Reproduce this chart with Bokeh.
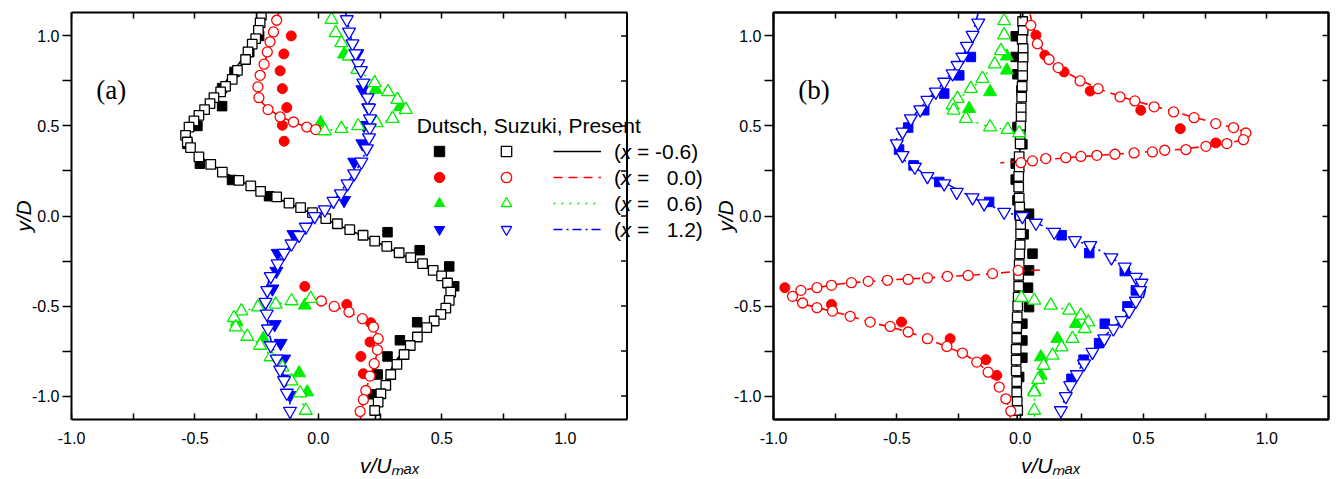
import math
from bokeh.plotting import figure
from bokeh.layouts import row
from bokeh.models import (Range1d, LinearAxis, FixedTicker, NumeralTickFormatter,
                          Label, Legend, LegendItem, Span)
from bokeh.embed import file_html
from bokeh.resources import INLINE

NAN = float("nan")

# ---------------- panel (a) ----------------
# Dutsch (filled markers)
A_DU_M06_X = [-0.24, -0.28, -0.34, -0.39, -0.39, -0.49, -0.53, -0.48, -0.35, -0.20, 0.28, 0.41, 0.53, 0.55, 0.40, 0.33, 0.28, 0.24, 0.22]
A_DU_M06_Y = [1.00, 0.91, 0.80, 0.71, 0.61, 0.50, 0.40, 0.29, 0.20, 0.11, -0.09, -0.19, -0.28, -0.39, -0.59, -0.69, -0.78, -0.88, -0.99]
A_DU_000_X = [-0.11, -0.14, -0.155, -0.146, -0.128, -0.146, -0.139, -0.055, 0.115, 0.212, 0.209, 0.172, 0.182]
A_DU_000_Y = [1.00, 0.90, 0.806, 0.707, 0.602, 0.504, 0.415, -0.391, -0.491, -0.593, -0.700, -0.780, -0.876]
A_DU_06_X = [0.104, 0.232, 0.331, 0.009, -0.055, -0.331, -0.223, -0.078, -0.045]
A_DU_06_Y = [0.898, 0.702, 0.606, 0.517, -0.496, -0.589, -0.681, -0.872, -0.978]
A_DU_12_X = [0.158, 0.178, 0.201, 0.185, 0.178, 0.145, 0.104, -0.101, -0.165, -0.170, -0.186, -0.177, -0.153, -0.139, -0.132, -0.115]
A_DU_12_Y = [0.902, 0.702, 0.602, 0.504, 0.402, 0.300, 0.087, -0.102, -0.206, -0.306, -0.404, -0.602, -0.706, -0.793, -0.904, -0.996]

# Suzuki (open markers)
A_SU_M06_X = [-0.231, -0.236, -0.243, -0.254, -0.268, -0.285, -0.295, -0.328, -0.349, -0.376, -0.396, -0.423, -0.439, -0.461, -0.484, -0.504, -0.524, -0.538, -0.531, -0.518, -0.484, -0.436, -0.389, -0.322, -0.274, -0.234, -0.169, -0.119, -0.072, -0.024, 0.030, 0.077, 0.127, 0.181, 0.228, 0.277, 0.327, 0.374, 0.422, 0.465, 0.499, 0.523, 0.536, 0.530, 0.516, 0.496, 0.469, 0.439, 0.401, 0.372, 0.347, 0.318, 0.293, 0.273, 0.253, 0.242, 0.228]
A_SU_M06_Y = [1.115, 1.072, 1.031, 0.985, 0.954, 0.911, 0.869, 0.809, 0.759, 0.720, 0.689, 0.657, 0.624, 0.591, 0.559, 0.528, 0.494, 0.448, 0.411, 0.380, 0.328, 0.287, 0.244, 0.198, 0.167, 0.137, 0.106, 0.072, 0.046, 0.019, -0.015, -0.043, -0.076, -0.107, -0.139, -0.169, -0.204, -0.231, -0.265, -0.302, -0.333, -0.372, -0.422, -0.469, -0.511, -0.546, -0.583, -0.620, -0.672, -0.719, -0.769, -0.824, -0.880, -0.941, -0.987, -1.033, -1.080]
A_SU_000_X = [-0.169, -0.182, -0.196, -0.207, -0.220, -0.236, -0.245, -0.241, -0.204, -0.155, -0.101, -0.047, -0.011, 0.012, 0.064, 0.124, 0.178, 0.223, 0.242, 0.239, 0.226, 0.209, 0.192, 0.182, 0.169]
A_SU_000_Y = [1.087, 1.022, 0.967, 0.911, 0.843, 0.781, 0.717, 0.657, 0.591, 0.550, 0.522, 0.494, 0.480, -0.472, -0.502, -0.533, -0.570, -0.617, -0.681, -0.743, -0.820, -0.889, -0.969, -1.020, -1.085]
A_SU_06_X = [0.053, 0.070, 0.093, 0.124, 0.158, 0.228, 0.282, 0.320, 0.354, 0.300, 0.236, 0.161, 0.093, 0.026, -0.031, -0.109, -0.173, -0.245, -0.312, -0.342, -0.335, -0.288, -0.236, -0.193, -0.146, -0.109, -0.074, -0.051]
A_SU_06_Y = [1.091, 1.017, 0.961, 0.887, 0.813, 0.739, 0.689, 0.646, 0.591, 0.541, 0.517, 0.500, 0.485, 0.472, -0.459, -0.472, -0.491, -0.506, -0.528, -0.565, -0.617, -0.669, -0.719, -0.783, -0.839, -0.917, -0.983, -1.080]
A_SU_12_X = [0.115, 0.124, 0.138, 0.151, 0.161, 0.172, 0.182, 0.199, 0.205, 0.209, 0.208, 0.205, 0.196, 0.174, 0.145, 0.118, 0.091, 0.061, 0.026, -0.015, -0.051, -0.078, -0.109, -0.139, -0.165, -0.193, -0.207, -0.214, -0.209, -0.204, -0.193, -0.169, -0.155, -0.139, -0.128, -0.115]
A_SU_12_Y = [1.091, 1.022, 0.957, 0.902, 0.846, 0.809, 0.739, 0.657, 0.600, 0.541, 0.490, 0.435, 0.374, 0.300, 0.235, 0.180, 0.124, 0.083, 0.035, -0.002, -0.061, -0.107, -0.154, -0.206, -0.265, -0.335, -0.413, -0.478, -0.543, -0.626, -0.719, -0.793, -0.854, -0.913, -0.983, -1.083]

# Present (lines)
A_PR_M06_X = [-0.22, -0.25, -0.29, -0.35, -0.42, -0.48, -0.53, -0.54, -0.52, -0.46, -0.38, -0.28, -0.17, -0.07, 0.03, 0.13, 0.23, 0.33, 0.42, 0.50, 0.54, 0.53, 0.49, 0.43, 0.37, 0.31, 0.27, 0.24, 0.23]
A_PR_M06_Y = [1.13, 1.02, 0.91, 0.79, 0.67, 0.56, 0.49, 0.44, 0.38, 0.31, 0.24, 0.17, 0.10, 0.04, -0.02, -0.08, -0.14, -0.21, -0.27, -0.34, -0.42, -0.50, -0.56, -0.63, -0.71, -0.81, -0.92, -1.03, -1.13]
A_PR_000_X = [-0.16, -0.18, -0.20, -0.22, -0.24, -0.245, -0.235, -0.20, -0.15, -0.10, -0.05, 0.0, NAN, 0.0, 0.06, 0.12, 0.18, 0.225, 0.243, 0.24, 0.225, 0.205, 0.185, 0.17]
A_PR_000_Y = [1.13, 1.03, 0.93, 0.84, 0.76, 0.70, 0.64, 0.59, 0.55, 0.52, 0.495, 0.475, NAN, -0.47, -0.50, -0.53, -0.57, -0.62, -0.68, -0.75, -0.83, -0.91, -1.00, -1.13]
A_PR_06_X = [0.05, 0.07, 0.10, 0.13, 0.17, 0.23, 0.29, 0.34, 0.33, 0.28, 0.22, 0.15, 0.08, 0.02, NAN, -0.02, -0.10, -0.17, -0.24, -0.31, -0.33, -0.32, -0.28, -0.23, -0.19, -0.14, -0.10, -0.07, -0.05]
A_PR_06_Y = [1.13, 1.02, 0.95, 0.88, 0.80, 0.74, 0.68, 0.60, 0.56, 0.53, 0.51, 0.495, 0.485, 0.47, NAN, -0.46, -0.47, -0.49, -0.505, -0.53, -0.57, -0.62, -0.67, -0.72, -0.78, -0.84, -0.92, -0.99, -1.13]
A_PR_12_X = [0.11, 0.13, 0.15, 0.17, 0.19, 0.205, 0.21, 0.205, 0.19, 0.16, 0.12, 0.07, 0.02, -0.03, -0.08, -0.13, -0.17, -0.20, -0.215, -0.21, -0.20, -0.18, -0.15, -0.12, -0.11]
A_PR_12_Y = [1.13, 1.0, 0.9, 0.8, 0.7, 0.6, 0.5, 0.42, 0.35, 0.27, 0.19, 0.10, 0.03, -0.04, -0.11, -0.19, -0.27, -0.35, -0.45, -0.55, -0.65, -0.75, -0.85, -0.98, -1.13]

# ---------------- panel (b) ----------------
B_DU_M06_X = [-0.018, -0.018, -0.011, 0.005, -0.011, 0.009, -0.018, -0.018, -0.011, 0.036, 0.014, 0.05, 0.036, 0.032, 0.036, 0.009, 0.009, 0.009, -0.004]
B_DU_M06_Y = [0.998, 0.883, 0.787, 0.698, 0.494, 0.398, 0.291, 0.202, 0.087, 0.013, -0.102, -0.209, -0.302, -0.398, -0.506, -0.598, -0.691, -0.787, -0.894]
B_DU_000_X = [0.064, 0.10, 0.178, 0.284, 0.489, 0.649, 0.793, -0.954, -0.765, -0.481, -0.284, -0.139, -0.095]
B_DU_000_Y = [1.004, 0.893, 0.80, 0.694, 0.587, 0.485, 0.406, -0.398, -0.491, -0.589, -0.681, -0.798, -0.885]
B_DU_06_X = [-0.054, -0.054, -0.122, -0.207, 0.226, 0.151, 0.084, 0.084, 0.057]
B_DU_06_Y = [0.887, 0.809, 0.689, 0.596, -0.598, -0.681, -0.783, -0.885, -0.969]
B_DU_12_X = [-0.200, -0.247, -0.308, -0.389, -0.454, -0.491, -0.432, -0.328, -0.126, -0.004, 0.168, 0.280, 0.424, 0.469, 0.435, 0.343, 0.320, 0.257, 0.208]
B_DU_12_Y = [0.883, 0.781, 0.680, 0.587, 0.491, 0.369, 0.281, 0.189, 0.078, 0.009, -0.107, -0.206, -0.306, -0.413, -0.502, -0.598, -0.706, -0.798, -0.904]

B_SU_M06_X = [0.010, 0.012, 0.008, 0.012, 0.012, 0.010, 0.010, 0.008, 0.006, 0.004, 0.004, 0.002, 0.000, 0.000, -0.004, -0.004, -0.006, -0.006, -0.004, -0.002, 0.000, 0.002, 0.002, 0.000, -0.002, -0.004, -0.006, -0.006, -0.008, -0.010, -0.012, -0.014, -0.014, -0.016, -0.016, -0.016, -0.014, -0.014, -0.012, -0.010]
B_SU_M06_Y = [1.08, 1.03, 0.98, 0.93, 0.88, 0.83, 0.78, 0.72, 0.66, 0.60, 0.55, 0.50, 0.45, 0.40, 0.33, 0.27, 0.22, 0.16, 0.10, 0.05, 0.00, -0.05, -0.10, -0.16, -0.21, -0.27, -0.33, -0.39, -0.45, -0.50, -0.56, -0.62, -0.68, -0.74, -0.80, -0.86, -0.92, -0.98, -1.03, -1.08]
B_SU_000_X = [0.043, 0.070, 0.117, 0.154, 0.243, 0.316, 0.405, 0.465, 0.543, 0.622, 0.705, 0.793, 0.865, 0.915, 0.905, 0.838, 0.753, 0.672, 0.586, 0.536, 0.462, 0.384, 0.311, 0.246, 0.185, 0.104, 0.050, 0.003,
              -0.008, -0.112, -0.211, -0.295, -0.376, -0.454, -0.538, -0.616, -0.684, -0.765, -0.824, -0.889, -0.923, -0.882, -0.824, -0.761, -0.689, -0.608, -0.527, -0.454, -0.376, -0.297, -0.234, -0.176, -0.130, -0.085, -0.058, -0.038]
B_SU_000_Y = [1.059, 0.957, 0.869, 0.824, 0.750, 0.707, 0.661, 0.639, 0.606, 0.578, 0.546, 0.513, 0.491, 0.461, 0.424, 0.402, 0.387, 0.369, 0.365, 0.356, 0.350, 0.343, 0.337, 0.331, 0.324, 0.319, 0.306, 0.296,
              -0.302, -0.320, -0.330, -0.335, -0.344, -0.352, -0.357, -0.363, -0.370, -0.385, -0.398, -0.413, -0.446, -0.483, -0.509, -0.528, -0.557, -0.589, -0.613, -0.644, -0.681, -0.724, -0.761, -0.811, -0.867, -0.950, -1.015, -1.083]
B_SU_06_X = [-0.065, -0.065, -0.078, -0.103, -0.153, -0.200, -0.254, -0.274, -0.270, -0.220, -0.122, -0.051, -0.004, 0.005, 0.057, 0.124, 0.199, 0.246, 0.276, 0.262, 0.212, 0.168, 0.131, 0.095, 0.073, 0.057, 0.057]
B_SU_06_Y = [1.083, 1.004, 0.917, 0.843, 0.763, 0.707, 0.652, 0.615, 0.587, 0.541, 0.494, 0.480, 0.461, -0.454, -0.469, -0.496, -0.524, -0.552, -0.589, -0.626, -0.681, -0.728, -0.774, -0.830, -0.909, -0.978, -1.080]
B_SU_12_X = [-0.170, -0.193, -0.216, -0.234, -0.254, -0.274, -0.308, -0.342, -0.376, -0.405, -0.443, -0.477, -0.500, -0.477, -0.427, -0.376, -0.308, -0.257, -0.193, -0.146, -0.065, 0.009, 0.064, 0.138, 0.222, 0.284, 0.370, 0.424, 0.469, 0.492, 0.486, 0.469, 0.442, 0.411, 0.378, 0.341, 0.293, 0.259, 0.230, 0.203, 0.185, 0.165]
B_SU_12_Y = [1.072, 1.004, 0.943, 0.883, 0.837, 0.791, 0.744, 0.689, 0.643, 0.591, 0.541, 0.467, 0.402, 0.337, 0.272, 0.220, 0.180, 0.133, 0.102, 0.069, 0.022, -0.002, -0.039, -0.089, -0.135, -0.163, -0.231, -0.283, -0.339, -0.372, -0.413, -0.472, -0.528, -0.580, -0.626, -0.681, -0.756, -0.820, -0.880, -0.941, -1.002, -1.080]

B_PR_M06_X = [0.01, 0.012, 0.008, 0.003, -0.003, 0.0, 0.002, -0.004, -0.01, -0.014, -0.016, -0.012]
B_PR_M06_Y = [1.13, 0.95, 0.75, 0.55, 0.3, 0.0, -0.1, -0.3, -0.5, -0.7, -0.9, -1.13]
B_PR_000_X = [0.04, 0.07, 0.12, 0.17, 0.25, 0.33, 0.45, 0.57, 0.70, 0.81, 0.89, 0.92, 0.90, 0.80, 0.65, 0.50, 0.35, 0.20, 0.07, -0.04, -0.08, NAN,
              0.08, 0.0, -0.11, -0.21, -0.30, -0.38, -0.46, -0.54, -0.62, -0.69, -0.77, -0.83, -0.89, -0.93, -0.89, -0.82, -0.76, -0.69, -0.61, -0.53, -0.45, -0.38, -0.30, -0.23, -0.17, -0.13, -0.085, -0.055, -0.04]
B_PR_000_Y = [1.12, 0.96, 0.87, 0.81, 0.75, 0.70, 0.645, 0.60, 0.55, 0.51, 0.48, 0.45, 0.42, 0.395, 0.37, 0.355, 0.34, 0.325, 0.31, 0.30, 0.295, NAN,
              -0.30, -0.305, -0.32, -0.33, -0.335, -0.345, -0.35, -0.355, -0.365, -0.37, -0.385, -0.40, -0.415, -0.445, -0.485, -0.51, -0.53, -0.555, -0.59, -0.615, -0.645, -0.68, -0.725, -0.765, -0.815, -0.87, -0.95, -1.02, -1.12]
B_PR_06_X = [-0.065, -0.068, -0.08, -0.105, -0.155, -0.20, -0.25, -0.275, -0.27, -0.22, -0.15, -0.10, -0.05, 0.0, 0.02, NAN,
             -0.02, 0.01, 0.06, 0.12, 0.20, 0.25, 0.275, 0.26, 0.21, 0.165, 0.13, 0.095, 0.072, 0.058, 0.058]
B_PR_06_Y = [1.13, 1.0, 0.92, 0.84, 0.76, 0.705, 0.65, 0.61, 0.58, 0.54, 0.505, 0.49, 0.478, 0.465, 0.46, NAN,
             -0.44, -0.455, -0.47, -0.495, -0.525, -0.555, -0.59, -0.625, -0.68, -0.73, -0.775, -0.83, -0.91, -0.98, -1.13]
B_PR_12_X = [-0.17, -0.19, -0.215, -0.235, -0.255, -0.28, -0.31, -0.345, -0.38, -0.41, -0.45, -0.49, -0.51, -0.49, -0.43, -0.37, -0.30, -0.19, -0.14, -0.06, 0.01, 0.07, 0.14, 0.22, 0.29, 0.37, 0.43, 0.48, 0.51, 0.50, 0.47, 0.44, 0.41, 0.37, 0.33, 0.29, 0.255, 0.225, 0.20, 0.18, 0.165]
B_PR_12_Y = [1.13, 1.02, 0.94, 0.88, 0.84, 0.79, 0.74, 0.69, 0.64, 0.59, 0.53, 0.46, 0.40, 0.33, 0.27, 0.22, 0.18, 0.10, 0.07, 0.02, -0.002, -0.04, -0.09, -0.135, -0.165, -0.23, -0.29, -0.35, -0.40, -0.45, -0.50, -0.535, -0.58, -0.63, -0.685, -0.76, -0.82, -0.88, -0.94, -1.0, -1.13]

# ---------------- ticks / texts ----------------
X_MIN, X_MAX = -1.0, 1.25
Y_MIN, Y_MAX = -1.13, 1.13
LABELED_TICKS = [-1.0, -0.5, 0.0, 0.5, 1.0]
QUARTER_TICKS = [-1.0, -0.75, -0.5, -0.25, 0.0, 0.25, 0.5, 0.75, 1.0]
MINOR_TICKS = [-0.75, -0.25, 0.25, 0.75]
STATIONS = ["-0.6", "\u00a0\u00a00.0", "\u00a0\u00a00.6", "\u00a0\u00a01.2"]
HEADER = "Dutsch, Suzuki, Present"
X_TITLE = "v/U\u2098\u2090\u2093"
Y_TITLE = "y/D"

# ---------------- styles ----------------
COLORS = ["#000000", "#ff0000", "#00ee00", "#0000ff"]
DASHES = ["solid", "9 6", "2 6", "9 4 2 4"]
OPEN_MARKERS = ["square", "circle", "triangle", "inverted_triangle"]
SIZES = {"square": 9.5, "circle": 10, "triangle": 13, "inverted_triangle": 13}
FONT = "Liberation Sans"
AXW = 2


def style_common(ax):
    ax.axis_line_width = AXW
    ax.axis_line_color = "black"
    ax.major_tick_line_width = 1.5
    ax.minor_tick_line_width = 1.5
    ax.major_tick_line_color = "black"
    ax.minor_tick_line_color = "black"


def style_labeled(ax, tin, tout, standoff):
    style_common(ax)
    ax.ticker = FixedTicker(ticks=LABELED_TICKS, minor_ticks=MINOR_TICKS)
    ax.formatter = NumeralTickFormatter(format="0.0")
    ax.major_tick_in = tin
    ax.major_tick_out = tout
    ax.minor_tick_in = tin
    ax.minor_tick_out = tout
    ax.major_label_text_font = FONT
    ax.major_label_text_font_size = "16px"
    ax.major_label_text_color = "black"
    ax.major_label_standoff = standoff
    ax.axis_label_text_font = FONT
    ax.axis_label_text_font_style = "italic"
    ax.axis_label_text_font_size = "21px"
    ax.axis_label_text_color = "black"


def style_unlabeled(ax):
    style_common(ax)
    ax.ticker = FixedTicker(ticks=[], minor_ticks=QUARTER_TICKS)
    ax.minor_tick_in = 6
    ax.minor_tick_out = 0
    ax.major_label_standoff = 0


def make_panel(width, bl, br, xmax, open_right, dutsch, suzuki, present, dutsch_markers, tag, with_legend):
    p = figure(width=width, height=479, x_range=Range1d(X_MIN, xmax), y_range=Range1d(Y_MIN, Y_MAX),
               output_backend="svg", toolbar_location=None,
               min_border_left=bl, min_border_right=br, min_border_top=12, min_border_bottom=60,
               background_fill_color="white", border_fill_color="white",
               outline_line_color=None if open_right else "black", outline_line_width=AXW)
    p.grid.visible = False

    bottom = p.xaxis[0]
    style_labeled(bottom, 6, 0, 12)
    bottom.axis_label = X_TITLE
    bottom.axis_label_standoff = 7
    left = p.yaxis[0]
    style_labeled(left, 0, 9, 3)
    left.axis_label = Y_TITLE
    left.axis_label_standoff = -6
    top = LinearAxis()
    style_unlabeled(top)
    p.add_layout(top, "above")
    if open_right:
        bottom.bounds = (X_MIN, X_MAX)
        top.bounds = (X_MIN, X_MAX)
        p.add_layout(Span(location=X_MAX, dimension="height", line_color="black", line_width=AXW))
        p.ray(x=[X_MAX] * len(QUARTER_TICKS), y=QUARTER_TICKS, length=6, length_units="screen",
              angle=math.pi, line_color="black", line_width=1.5)
    else:
        right = LinearAxis()
        style_unlabeled(right)
        p.add_layout(right, "right")

    filled_r, line_r, open_r = [], [], []
    for i, (xs, ys) in enumerate(dutsch):
        m = dutsch_markers[i]
        filled_r.append(p.scatter(xs, ys, marker=m, size=SIZES[m], fill_color=COLORS[i],
                                  line_color=COLORS[i], line_width=1))
    for i, (xs, ys) in enumerate(present):
        line_r.append(p.line(xs, ys, line_color=COLORS[i], line_width=1.6, line_dash=DASHES[i]))
    for i, (xs, ys) in enumerate(suzuki):
        m = OPEN_MARKERS[i]
        open_r.append(p.scatter(xs, ys, marker=m, size=SIZES[m], fill_color="white",
                                line_color=COLORS[i], line_width=1.3))

    p.add_layout(Label(x=-0.90, y=0.70, text=tag, text_font="Liberation Serif",
                       text_font_size="27px", text_baseline="middle", text_color="black"))

    if with_legend:
        common = dict(glyph_height=26, label_height=26, label_width=1, spacing=0, padding=0,
                      margin=0, label_standoff=0, label_text_font_size="1px",
                      border_line_color=None, background_fill_alpha=0)
        p.add_layout(Legend(items=[LegendItem(label=" ", renderers=[r]) for r in filled_r],
                            location=(355, 177), glyph_width=26, **common))
        p.add_layout(Legend(items=[LegendItem(label=" ", renderers=[r]) for r in open_r],
                            location=(422, 177), glyph_width=26, **common))
        p.add_layout(Legend(items=[LegendItem(label=" ", renderers=[r]) for r in line_r],
                            location=(482, 177), glyph_width=48, **common))
        p.add_layout(Label(x=0.398, y=0.504, text=HEADER, text_font=FONT, text_font_size="21px",
                           text_baseline="middle", text_color="black"))
        for i, st in enumerate(STATIONS):
            yy = (215.7 - (151 + 26 * i)) / 180.0
            p.add_layout(Label(x=1.197, y=yy, text="(", text_font=FONT, text_font_size="21px",
                               text_baseline="middle", text_color="black"))
            p.add_layout(Label(x=1.225, y=yy, text="x", text_font=FONT, text_font_style="italic",
                               text_font_size="21px", text_baseline="middle", text_color="black"))
            p.add_layout(Label(x=1.290, y=yy, text="= " + st + ")", text_font=FONT,
                               text_font_size="21px", text_baseline="middle", text_color="black"))
    return p


pa = make_panel(708, 71, 0, 1.58, True,
                [(A_DU_M06_X, A_DU_M06_Y), (A_DU_000_X, A_DU_000_Y), (A_DU_06_X, A_DU_06_Y), (A_DU_12_X, A_DU_12_Y)],
                [(A_SU_M06_X, A_SU_M06_Y), (A_SU_000_X, A_SU_000_Y), (A_SU_06_X, A_SU_06_Y), (A_SU_12_X, A_SU_12_Y)],
                [(A_PR_M06_X, A_PR_M06_Y), (A_PR_000_X, A_PR_000_Y), (A_PR_06_X, A_PR_06_Y), (A_PR_12_X, A_PR_12_Y)],
                ["square", "circle", "triangle", "inverted_triangle"], "(a)", True)
pb = make_panel(628, 65, 8, X_MAX, False,
                [(B_DU_M06_X, B_DU_M06_Y), (B_DU_000_X, B_DU_000_Y), (B_DU_06_X, B_DU_06_Y), (B_DU_12_X, B_DU_12_Y)],
                [(B_SU_M06_X, B_SU_M06_Y), (B_SU_000_X, B_SU_000_Y), (B_SU_06_X, B_SU_06_Y), (B_SU_12_X, B_SU_12_Y)],
                [(B_PR_M06_X, B_PR_M06_Y), (B_PR_000_X, B_PR_000_Y), (B_PR_06_X, B_PR_06_Y), (B_PR_12_X, B_PR_12_Y)],
                ["square", "circle", "triangle", "square"], "(b)", False)

layout = row(pa, pb)
open("out.html", "w").write(file_html(layout, INLINE))
